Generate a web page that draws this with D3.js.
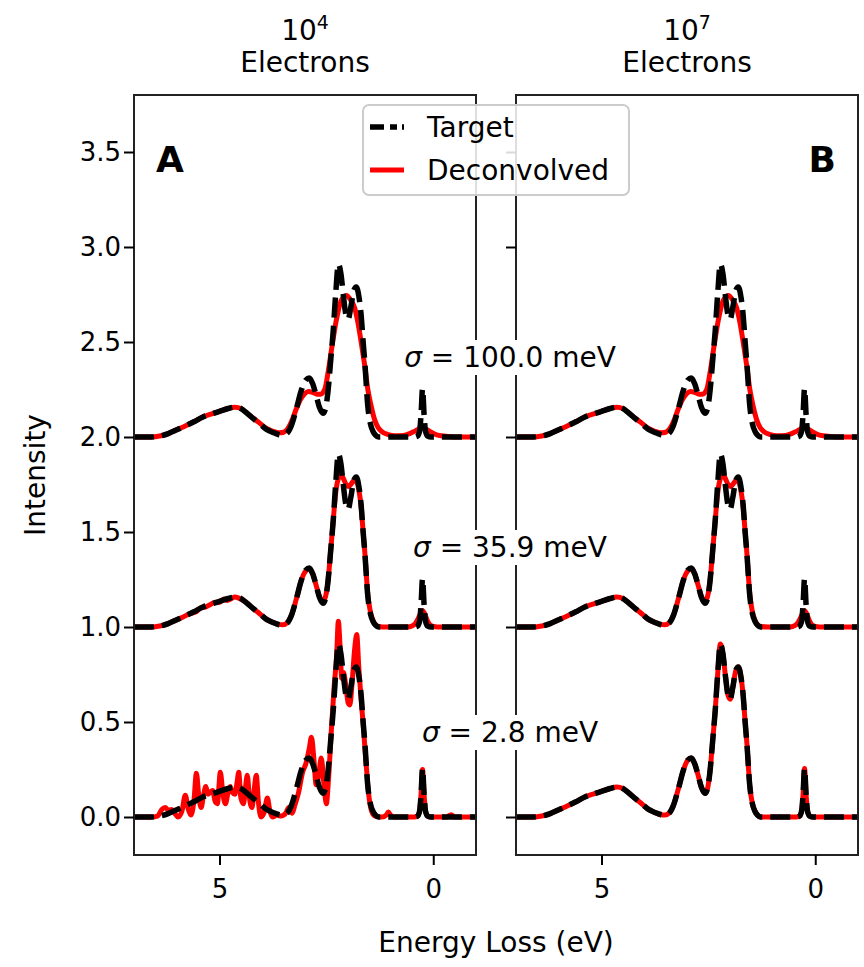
<!DOCTYPE html>
<html>
<head>
<meta charset="utf-8">
<script src="https://cdn.jsdelivr.net/npm/d3@7"></script>
<style>
body { margin: 0; background: #fff; }
text { font-family: "DejaVu Sans", sans-serif; fill: #000; }
</style>
</head>
<body>
<div id="chart"></div>
<script>
// ---- values ----
var rowOffsets = [0, 1, 2];
var sigmaLabels = ["2.8 meV", "35.9 meV", "100.0 meV"];
var panelNames = ["A", "B"];
var electronExp = ["4", "7"];
var yTicks = [0, 0.5, 1, 1.5, 2, 2.5, 3, 3.5];
var xTicks = [5, 0];
var legendNames = ["Target", "Deconvolved"];

// target spectrum [energy loss (eV), intensity]
var target = [
  [7.0,0],[6.6,0],[6.4,0.005],[6.2,0.018],[6.0,0.038],[5.85,0.053],[5.6,0.08],[5.39,0.105],
  [5.2,0.12],[5.0,0.135],[4.8,0.15],[4.64,0.158],[4.5,0.15],[4.38,0.13],[4.2,0.095],[4.06,0.07],
  [3.9,0.04],[3.75,0.024],[3.62,0.013],[3.52,0.01],[3.42,0.02],[3.32,0.06],[3.2,0.15],[3.08,0.25],
  [2.98,0.30],[2.9,0.31],[2.82,0.28],[2.74,0.22],[2.66,0.155],[2.58,0.125],[2.52,0.15],[2.46,0.245],
  [2.40,0.40],[2.34,0.56],[2.28,0.76],[2.22,0.91],[2.16,0.86],[2.10,0.74],[2.04,0.64],[1.99,0.62],
  [1.93,0.68],[1.86,0.77],[1.80,0.79],[1.74,0.74],[1.69,0.65],[1.64,0.50],[1.60,0.39],[1.53,0.16],
  [1.47,0.07],[1.41,0.03],[1.35,0.01],[1.28,0],[0.45,0],[0.37,0.005],[0.32,0.03],[0.285,0.12],
  [0.25,0.255],[0.215,0.12],[0.18,0.03],[0.13,0.005],[0.05,0],[-1.0,0]
];

// deconvolved, 10^4 electrons, sigma = 2.8 meV (noisy)
var decA_2p8 = [
  [7.0,0],[6.6,0],[6.45,0.005],[6.35,0.04],[6.27,0.05],[6.2,0.035],[6.12,0.04],[6.05,0.02],
  [5.97,0.0],[5.88,0.03],[5.8,0.115],[5.73,0.04],[5.67,0.01],[5.6,0.08],[5.54,0.23],[5.48,0.1],
  [5.43,0.05],[5.37,0.12],[5.32,0.16],[5.27,0.12],[5.22,0.13],[5.16,0.14],[5.1,0.08],[5.05,0.07],
  [4.98,0.235],[4.92,0.12],[4.86,0.07],[4.8,0.13],[4.75,0.16],[4.7,0.13],[4.64,0.12],[4.59,0.18],
  [4.55,0.235],[4.5,0.1],[4.44,0.07],[4.39,0.16],[4.35,0.22],[4.3,0.1],[4.24,0.05],[4.19,0.14],
  [4.14,0.22],[4.09,0.08],[4.03,0.0],[3.96,0.02],[3.88,0.1],[3.82,0.03],[3.76,0.0],[3.66,0.01],
  [3.56,0.005],[3.45,0.02],[3.38,0.05],[3.3,0.02],[3.24,0.06],[3.16,0.12],[3.05,0.24],[2.98,0.28],
  [2.9,0.36],[2.85,0.42],[2.79,0.3],[2.74,0.17],[2.68,0.22],[2.62,0.31],[2.56,0.18],[2.5,0.07],
  [2.45,0.2],[2.38,0.47],[2.32,0.68],[2.26,0.85],[2.22,1.03],[2.18,0.9],[2.14,0.73],[2.1,0.76],
  [2.05,0.7],[1.99,0.6],[1.95,0.59],[1.9,0.7],[1.84,0.88],[1.79,0.96],[1.74,0.78],[1.68,0.6],
  [1.64,0.49],[1.57,0.28],[1.5,0.1],[1.44,0.03],[1.36,0.005],[1.2,0],[1.1,0.01],[1.05,0.026],
  [1.0,0.01],[0.9,0],[0.45,0],[0.37,0.005],[0.32,0.03],[0.285,0.12],[0.25,0.25],[0.215,0.12],
  [0.18,0.03],[0.13,0.005],[0.05,0],[-0.3,0],[-0.42,0.012],[-0.5,0],[-1.0,0]
];

// deconvolved, sigma = 35.9 meV
var decA_35p9 = [
  [7.0,0],[6.6,0],[6.4,0.005],[6.2,0.018],[6.0,0.038],[5.85,0.053],[5.7,0.07],[5.55,0.08],
  [5.45,0.1],[5.33,0.105],[5.2,0.12],[5.1,0.13],[5.0,0.13],[4.9,0.148],[4.82,0.14],[4.72,0.15],
  [4.64,0.158],[4.55,0.152],[4.45,0.14],[4.38,0.13],[4.2,0.095],[4.06,0.07],[3.9,0.04],[3.75,0.024],
  [3.62,0.014],[3.52,0.012],[3.42,0.022],[3.32,0.06],[3.2,0.15],[3.08,0.25],[2.98,0.295],[2.9,0.305],
  [2.82,0.28],[2.74,0.22],[2.66,0.16],[2.58,0.135],[2.52,0.16],[2.46,0.245],[2.40,0.40],[2.34,0.56],
  [2.28,0.71],[2.22,0.78],[2.16,0.80],[2.10,0.78],[2.04,0.75],[1.99,0.74],[1.93,0.75],[1.86,0.77],
  [1.80,0.765],[1.74,0.72],[1.69,0.64],[1.64,0.50],[1.60,0.39],[1.53,0.17],[1.47,0.08],[1.41,0.035],
  [1.35,0.012],[1.28,0.003],[1.1,0],[0.6,0],[0.5,0.005],[0.42,0.018],[0.35,0.045],[0.3,0.07],
  [0.25,0.085],[0.2,0.07],[0.15,0.04],[0.08,0.012],[0.0,0.003],[-0.1,0],[-1.0,0]
];
var decB_35p9 = [
  [7.0,0],[6.6,0],[6.4,0.005],[6.2,0.018],[6.0,0.038],[5.85,0.053],[5.6,0.08],[5.39,0.105],
  [5.2,0.12],[5.0,0.135],[4.8,0.15],[4.64,0.158],[4.5,0.15],[4.38,0.13],[4.2,0.095],[4.06,0.07],
  [3.9,0.04],[3.75,0.024],[3.62,0.014],[3.52,0.012],[3.42,0.022],[3.32,0.06],[3.2,0.15],[3.08,0.25],
  [2.98,0.295],[2.9,0.305],[2.82,0.28],[2.74,0.22],[2.66,0.16],[2.58,0.135],[2.52,0.16],[2.46,0.245],
  [2.40,0.40],[2.34,0.56],[2.28,0.71],[2.22,0.78],[2.16,0.80],[2.10,0.78],[2.04,0.75],[1.99,0.74],
  [1.93,0.75],[1.86,0.77],[1.80,0.765],[1.74,0.72],[1.69,0.64],[1.64,0.50],[1.60,0.39],[1.53,0.17],
  [1.47,0.08],[1.41,0.035],[1.35,0.012],[1.28,0.003],[1.1,0],[0.6,0],[0.5,0.005],[0.42,0.018],
  [0.35,0.045],[0.3,0.07],[0.25,0.085],[0.2,0.07],[0.15,0.04],[0.08,0.012],[0.0,0.003],[-0.1,0],[-1.0,0]
];

// deconvolved, sigma = 100.0 meV (same look in both panels)
var dec_100 = [
  [7.0,0],[6.6,0],[6.4,0.005],[6.2,0.018],[6.0,0.038],[5.85,0.053],[5.6,0.08],[5.39,0.105],
  [5.2,0.12],[5.0,0.135],[4.8,0.15],[4.64,0.157],[4.5,0.15],[4.38,0.13],[4.2,0.097],[4.06,0.073],
  [3.9,0.045],[3.75,0.03],[3.6,0.022],[3.5,0.025],[3.4,0.045],[3.3,0.09],[3.2,0.15],[3.1,0.2],
  [3.0,0.23],[2.92,0.24],[2.82,0.235],[2.72,0.225],[2.64,0.225],[2.54,0.25],[2.46,0.34],[2.38,0.46],
  [2.28,0.6],[2.15,0.72],[2.03,0.745],[1.93,0.72],[1.84,0.68],[1.76,0.6],[1.68,0.49],[1.6,0.37],
  [1.53,0.25],[1.45,0.16],[1.37,0.09],[1.29,0.05],[1.21,0.03],[1.05,0.012],[0.9,0.006],[0.7,0.008],
  [0.55,0.018],[0.42,0.032],[0.3,0.045],[0.24,0.046],[0.15,0.04],[0.05,0.025],[-0.1,0.01],
  [-0.35,0.003],[-0.6,0],[-1.0,0]
];

// 10^7 electrons at 2.8 meV lands on the target
var decB_2p8 = target;

var deconvolved = [[decA_2p8, decA_35p9, dec_100], [decB_2p8, decB_35p9, dec_100]];

// ---- drawing ----
var W = 864, H = 967;
var panelX = [[134, 476], [516, 858]];
var plotTop = 95, plotBottom = 855;

var svg = d3.select("#chart")
    .append("svg")
    .attr("width", W)
    .attr("height", H);

var y = d3.scaleLinear().domain([-0.2, 3.8]).range([plotBottom, plotTop]);

panelNames.forEach(function(name, p){
  var x = d3.scaleLinear().domain([7, -1]).range(panelX[p]);
  var g = svg.append("g");

  g.append("clipPath").attr("id", "clip" + p)
    .append("rect")
      .attr("x", panelX[p][0]).attr("y", plotTop)
      .attr("width", panelX[p][1] - panelX[p][0]).attr("height", plotBottom - plotTop);

  var plot = g.append("g").attr("clip-path", "url(#clip" + p + ")");

  rowOffsets.forEach(function(off, r){
    var line = d3.line()
        .x(function(d){ return x(d[0]); })
        .y(function(d){ return y(d[1] + off); })
        .curve(d3.curveMonotoneX);
    plot.append("path")
        .attr("d", line(deconvolved[p][r]))
        .attr("fill", "none")
        .attr("stroke", "#ff0000")
        .attr("stroke-width", 5)
        .attr("stroke-linejoin", "round");
    plot.append("path")
        .attr("d", line(target))
        .attr("fill", "none")
        .attr("stroke", "#000")
        .attr("stroke-width", 5.5)
        .attr("stroke-dasharray", "20,8")
        .attr("stroke-linejoin", "round");
  });

  // frame
  g.append("rect")
      .attr("x", panelX[p][0]).attr("y", plotTop)
      .attr("width", panelX[p][1] - panelX[p][0]).attr("height", plotBottom - plotTop)
      .attr("fill", "none").attr("stroke", "#222").attr("stroke-width", 2);

  var yAxis = d3.axisLeft(y).tickValues(yTicks).tickSize(10).tickPadding(3)
      .tickFormat(p == 0 ? d3.format(".1f") : function(){ return ""; });
  var ya = g.append("g").attr("transform", "translate(" + panelX[p][0] + ",0)").call(yAxis);
  var xAxis = d3.axisBottom(x).tickValues(xTicks).tickSize(10).tickPadding(15)
      .tickFormat(d3.format("d"));
  var xa = g.append("g").attr("transform", "translate(0," + plotBottom + ")").call(xAxis);
  [ya, xa].forEach(function(a){
    a.select(".domain").remove();
    a.selectAll(".tick line").attr("stroke", "#000").attr("stroke-width", 2);
    a.selectAll(".tick text").style("font-family", "DejaVu Sans").style("font-size", "26px").attr("fill", "#000");
  });

  // panel letter
  g.append("text")
      .attr("x", p == 0 ? 156 : 836)
      .attr("y", 172)
      .attr("text-anchor", p == 0 ? "start" : "end")
      .style("font-size", "36px").style("font-weight", "bold")
      .text(name);

  // column title
  var cx = (panelX[p][0] + panelX[p][1]) / 2;
  var t1 = g.append("text").attr("x", cx).attr("y", 40).attr("text-anchor", "middle")
      .style("font-size", "28px");
  t1.append("tspan").text("10");
  t1.append("tspan").attr("dy", -11).style("font-size", "19px").text(electronExp[p]);
  g.append("text").attr("x", cx).attr("y", 72).attr("text-anchor", "middle")
      .style("font-size", "28px").text("Electrons");
});

// sigma labels with white boxes
var sigmaY = [742, 557, 367];
sigmaLabels.forEach(function(s, i){
  var tg = svg.append("g");
  var bg = tg.append("rect").attr("fill", "#fff");
  var t = tg.append("text").attr("x", 510).attr("y", sigmaY[i])
      .attr("text-anchor", "middle").style("font-size", "28px");
  t.append("tspan").style("font-style", "italic").text("\u03c3");
  t.append("tspan").text(" = " + s);
  var b = t.node().getBBox();
  bg.attr("x", b.x - 3).attr("y", b.y - 1).attr("width", b.width + 6).attr("height", b.height + 2);
});

// axis labels
svg.append("text")
    .attr("transform", "translate(45," + (plotTop + plotBottom) / 2 + ") rotate(-90)")
    .attr("text-anchor", "middle").style("font-size", "28px").text("Intensity");
svg.append("text")
    .attr("x", (panelX[0][0] + panelX[1][1]) / 2).attr("y", 952)
    .attr("text-anchor", "middle").style("font-size", "28px").text("Energy Loss (eV)");

// legend
var lg = svg.append("g");
lg.append("rect")
    .attr("x", 363).attr("y", 105).attr("width", 266).attr("height", 90).attr("rx", 6)
    .attr("fill", "#fff").attr("fill-opacity", 0.85)
    .attr("stroke", "#cccccc").attr("stroke-width", 2);
var legendRows = [127, 170];
legendNames.forEach(function(n, i){
  lg.append("line")
      .attr("x1", 370).attr("x2", 404).attr("y1", legendRows[i]).attr("y2", legendRows[i])
      .attr("stroke", i == 0 ? "#000" : "#ff0000")
      .attr("stroke-width", i == 0 ? 5.5 : 5)
      .attr("stroke-dasharray", i == 0 ? "14,6,7,5,3,20" : null);
  lg.append("text").attr("x", 427).attr("y", legendRows[i]).attr("dy", "0.35em")
      .style("font-size", "28px").text(n);
});
</script>
</body>
</html>
